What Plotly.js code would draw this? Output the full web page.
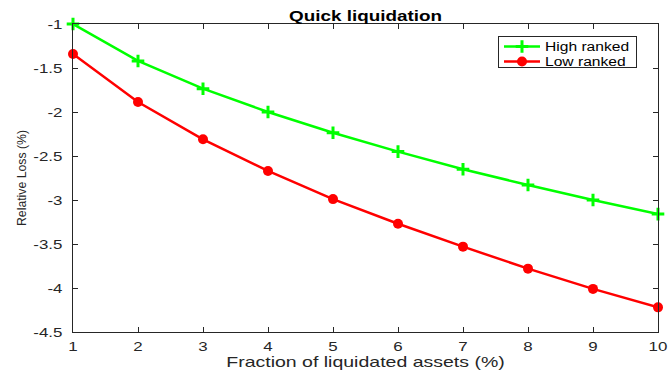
<!DOCTYPE html>
<html><head><meta charset="utf-8">
<script src="https://cdn.plot.ly/plotly-3.0.1.min.js"></script>
<style>html,body{margin:0;padding:0;background:#fff}#c{width:670px;height:370px}</style>
</head><body><div id="c"></div>
<script>
const fractions = [1,2,3,4,5,6,7,8,9,10];
const highRanked = [-1.00,-1.42,-1.735,-2.00,-2.235,-2.45,-2.65,-2.83,-3.00,-3.16];
const lowRanked = [-1.34,-1.886,-2.31,-2.67,-2.99,-3.27,-3.53,-3.78,-4.01,-4.22];
const yTicks = [-4.5,-4,-3.5,-3,-2.5,-2,-1.5,-1];
const yTickLabels = ['-4.5','-4','-3.5','-3','-2.5','-2','-1.5','-1'];

const font = 'Liberation Sans, Arial, sans-serif';
const axisColor = '#262626';
const traces = [
  {x: fractions, y: highRanked, name: 'High ranked', mode: 'lines+markers',
   line: {color: '#00ff00', width: 2.5},
   marker: {symbol: 'cross-thin-open', size: 9, color: '#00ff00', line: {color: '#00ff00', width: 3}},
   cliponaxis: false},
  {x: fractions, y: lowRanked, name: 'Low ranked', mode: 'lines+markers',
   line: {color: '#ff0000', width: 2.5},
   marker: {symbol: 'circle', size: 10, color: '#ff0000'},
   cliponaxis: false}
];
const axisCommon = {
  showgrid: false, zeroline: false, showline: true, mirror: 'ticks',
  linecolor: axisColor, linewidth: 1, ticks: 'inside', ticklen: 5, tickcolor: axisColor,
  tickfont: {family: font, size: 13, color: axisColor}
};
const layout = {
  width: 670, height: 370,
  margin: {l: 73, r: 12, t: 24, b: 38},
  paper_bgcolor: '#fff', plot_bgcolor: '#fff',
  showlegend: true,
  title: {text: 'Quick liquidation', font: {family: font, size: 14.5, weight: 'bold', color: '#000'},
          xref: 'paper', x: 0.5, xanchor: 'center', y: 0.958, yanchor: 'middle'},
  xaxis: Object.assign({}, axisCommon, {
    range: [1, 10], tickmode: 'array', tickvals: fractions, ticktext: fractions.map(String),
    ticklabelstandoff: 2,
    title: {text: 'Fraction of liquidated assets (%)', font: {family: font, size: 15, color: axisColor}, standoff: 4}
  }),
  yaxis: Object.assign({}, axisCommon, {
    range: [-4.5, -1], tickmode: 'array', tickvals: yTicks, ticktext: yTickLabels,
    ticklabelstandoff: 7,
    title: {text: 'Relative Loss (%)', font: {family: font, size: 13, color: axisColor}, standoff: 10}
  }),
  legend: {x: 0.7265, y: 0.961, xanchor: 'left', yanchor: 'top',
           bordercolor: axisColor, borderwidth: 1, bgcolor: '#fff',
           font: {family: font, size: 12, color: '#000'},
           tracegroupgap: 0, itemwidth: 36}
};
Plotly.newPlot('c', traces, layout, {displayModeBar: false, staticPlot: true}).then(gd => {
  // reference glyphs are horizontally wide: widen horizontal text only
  const k = 1.3;
  const sel = 'text.gtitle, text.xtitle, g.xtick text, g.ytick text, text.legendtext';
  gd.querySelectorAll(sel).forEach(t => {
    const len = t.getComputedTextLength();
    if (!len) return;
    t.setAttribute('textLength', (len * k).toFixed(1));
    t.setAttribute('lengthAdjust', 'spacingAndGlyphs');
  });
  const lg = gd.querySelector('g.legend');
  if (lg) {
    const bg = lg.querySelector('rect.bg');
    const rowY = [10.5, 25.5];
    lg.querySelectorAll('g.traces').forEach((g, i) => {
      const m = /translate\(([-\d.]+)[ ,]+([-\d.]+)\)/.exec(g.getAttribute('transform') || '');
      if (m && i < rowY.length) g.setAttribute('transform', 'translate(' + m[1] + ',' + rowY[i] + ')');
    });
    const bgBox = bg.getBoundingClientRect();
    let right = 0;
    lg.querySelectorAll('text.legendtext').forEach(t => {
      right = Math.max(right, t.getBoundingClientRect().right);
    });
    const newW = Math.ceil(right - bgBox.left + 7);
    const newH = 31;
    bg.setAttribute('width', newW);
    bg.setAttribute('height', newH);
    gd.querySelectorAll('clipPath[id^="legend"] rect').forEach(r => {
      r.setAttribute('width', newW); r.setAttribute('height', newH);
    });
  }
  // keep the vertical y title at the reference length (about 95 px)
  const yt = gd.querySelector('text.ytitle');
  if (yt) {
    yt.setAttribute('textLength', '96');
    yt.setAttribute('lengthAdjust', 'spacingAndGlyphs');
  }
});
</script></body></html>
